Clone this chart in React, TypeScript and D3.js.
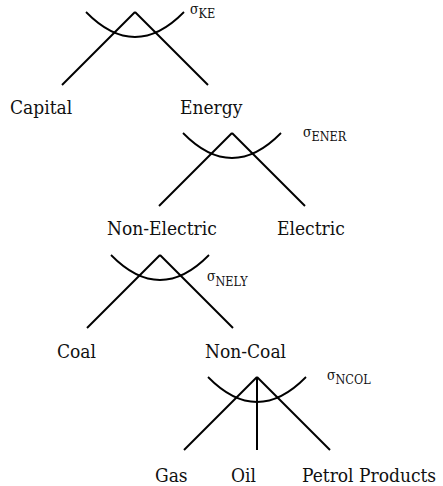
import React from "react";
import * as d3 from "d3";

// ---- data ----
const nestSigmas = ["KE", "ENER", "NELY", "NCOL"];
const nestChildren = [
  ["Capital", "Energy"],
  ["Non-Electric", "Electric"],
  ["Coal", "Non-Coal"],
  ["Gas", "Oil", "Petrol Products"],
];

// ---- layout ----
const W = 443;
const H = 486;
const FONT = "'DejaVu Serif Condensed', 'DejaVu Serif', serif";
const apexes: [number, number][] = [
  [135, 12],
  [232, 133],
  [160, 255],
  [257, 377],
];
const labelStarts = [
  [10, 180],
  [107, 277],
  [57, 205],
  [155, 231, 302],
];
const labelBaselines = [114, 235, 358, 482];
const sigmaPos: [number, number, number][] = [
  // sigma x, sigma baseline, subscript baseline
  [190, 14, 18],
  [303, 137, 141],
  [207, 281, 286],
  [327, 380, 384],
];
const LEG = 73;
const ARC_HALF = 49;
const ARC_DEPTH = 25;

export default function App() {
  return (
    <svg
      width={W}
      height={H}
      style={{ position: "absolute", left: 0, top: 0, background: "#fff" }}
    >
      {nestSigmas.map((sig, i) => {
        const [ax, ay] = apexes[i];
        const kids = nestChildren[i];
        const xs = d3.scalePoint<string>().domain(kids).range([-LEG, LEG]);
        const arc = d3.path();
        arc.moveTo(ax - ARC_HALF, ay);
        arc.quadraticCurveTo(ax, ay + 2 * ARC_DEPTH, ax + ARC_HALF, ay);
        const [sx, sy, cy] = sigmaPos[i];
        return (
          <g key={sig}>
            {kids.map((k) => (
              <line
                key={k}
                x1={ax}
                y1={ay}
                x2={ax + (xs(k) as number)}
                y2={ay + LEG}
                stroke="#000"
                strokeWidth={2}
              />
            ))}
            <path d={arc.toString()} fill="none" stroke="#000" strokeWidth={1.8} />
            {kids.map((k, j) => (
              <text
                key={"t" + k}
                x={labelStarts[i][j]}
                y={labelBaselines[i]}
                style={{ fontFamily: FONT }}
                fontSize={19}
                fill="#111"
              >
                {k}
              </text>
            ))}
            <text x={sx} y={sy} style={{ fontFamily: FONT }} fontSize={14} fill="#111">
              σ
              <tspan x={sx + 8.5} y={cy} fontSize={12.5}>
                {sig}
              </tspan>
            </text>
          </g>
        );
      })}
    </svg>
  );
}
